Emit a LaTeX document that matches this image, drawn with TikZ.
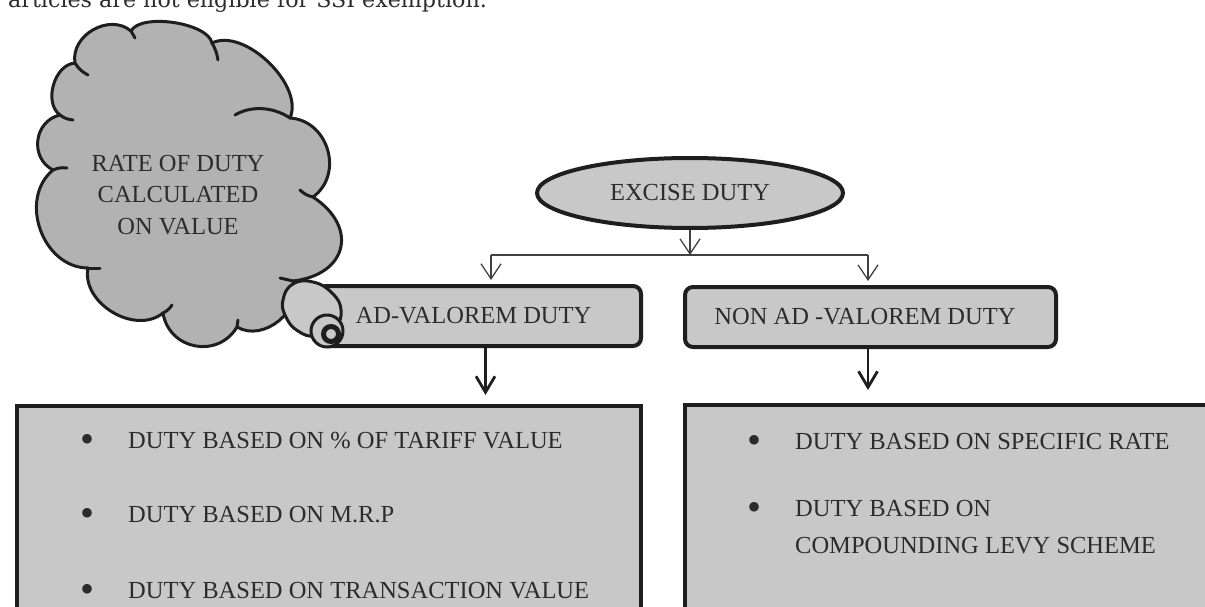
\documentclass[tikz,border=0pt]{standalone}
\usepackage{fontspec}
\setmainfont{Liberation Serif}
\newfontfamily\topfont{DejaVu Serif}
\usetikzlibrary{arrows.meta,shapes.geometric,calc}
\definecolor{cloudgray}{HTML}{B2B2B2}
\definecolor{boxgray}{HTML}{C8C8C8}
\definecolor{ink}{HTML}{1E1E1E}
\definecolor{txt}{HTML}{2C2C2C}
\begin{document}
\begin{tikzpicture}[x=1pt,y=-1pt,
  font=\fontsize{24.5}{31.5}\selectfont,
  every node/.append style={text=txt},
  headbox/.style={draw=ink, line width=4pt, fill=boxgray, rounded corners=8pt, inner sep=0pt},
  listbox/.style={draw=ink, line width=4pt, fill=boxgray, inner sep=0pt},
  cloudline/.style={draw=ink, line width=3pt, line cap=round, line join=round},
  thinline/.style={draw=ink!85, line width=1.3pt},
  thinarrow/.style={thinline, -{Straight Barb[length=15pt,width=20pt,line width=1.3pt]}},
  thickarrow/.style={draw=ink, line width=2.8pt, -{Straight Barb[length=16pt,width=19pt,line width=2.8pt]}},
  itemtext/.style={anchor=base west, inner sep=0pt},
  bul/.style={anchor=base, inner sep=0pt, font=\fontsize{40}{40}\selectfont},
]
\useasboundingbox (0,0) rectangle (1205,607);
\clip (0,0) rectangle (1205,607);

% top text line (cut off)
\node[anchor=base west, inner sep=0pt, font=\topfont\fontsize{22.2}{26}\selectfont] (toptext) at (8,7.5) {articles are not eligible for SSI exemption.};

% cloud
\coordinate (A) at (131,31);
\coordinate (B) at (75,63);
\coordinate (C) at (60,115);
\coordinate (D) at (53,170);
\coordinate (E) at (88,268);
\coordinate (F) at (163,313);
\coordinate (G) at (237,327);
\coordinate (H) at (293,281);
\coordinate (I) at (313,197);
\coordinate (J) at (290,118);
\coordinate (K) at (212,43);
\draw[cloudline, fill=cloudgray]
  (A) to[bend right=70, looseness=1.12] (B)
      to[bend right=70, looseness=0.98] (C)
      to[bend right=70, looseness=1.23] (D)
      to[bend right=70, looseness=1.12] (E)
      to[bend right=70, looseness=1.05] (F)
      to[bend right=70, looseness=1.27] (G)
      to[bend right=70, looseness=1.09] (H)
      to[bend right=70, looseness=1.63] (I)
      to[bend right=70, looseness=1.2] (J)
      to[bend right=70, looseness=0.85] (K)
      to[bend right=70, looseness=0.65] (A) -- cycle;
% creases
\draw[cloudline] (A) -- (135,38);
\draw[cloudline] (B) to[bend right=15] (88,75);
\draw[cloudline] (C) to[bend right=15] (73,120);
\draw[cloudline] (D) to[bend left=15] (67,168);
\draw[cloudline] (E) -- (100,268);
\draw[cloudline] (F) to[bend right=15] (172,305);
\draw[cloudline] (G) -- (238,320);
\draw[cloudline] (H) -- (280,278);
\draw[cloudline] (I) to[bend left=15] (300,190);
\draw[cloudline] (J) .. controls (272,106) and (250,106) .. (235,115);
\draw[cloudline] (K) to[bend left=10] (218,60);

\node[align=center, inner sep=0pt] (cloudtext) at (178,195) {RATE OF DUTY\\CALCULATED\\ON VALUE};

% heading nodes
\node[ellipse, draw=ink, line width=4pt, fill=boxgray, minimum width=306pt, minimum height=70pt, inner sep=0pt] (excise) at (690,193) {EXCISE DUTY};
\node[headbox, minimum width=323pt, minimum height=60pt] (adv) at (479.5,316) {AD-VALOREM DUTY\hspace*{12pt}};
\node[headbox, minimum width=371pt, minimum height=60pt] (nonadv) at (870.5,317) {NON AD -VALOREM DUTY\hspace*{11pt}};

% scroll end of the cloud
\draw[cloudline, fill=boxgray] plot[smooth cycle, tension=0.8] coordinates {(283,300) (293,284) (313,282) (332,293) (341,310) (335,327) (316,336) (298,331) (286,317)};
\draw[cloudline, fill=boxgray] (327,331) circle[radius=16];
\draw[draw=ink, line width=5pt, fill=boxgray] (331,334) circle[radius=7.5];

% list boxes
\node[listbox, minimum width=624pt, minimum height=246pt, anchor=north west] (advlist) at (15,404) {};
\node[listbox, minimum width=567pt, minimum height=246pt, anchor=north west] (nonlist) at (683,403) {};

\node[bul] (b1) at (88,452) {\textbullet};
\node[itemtext] (t1) at (128,448) {DUTY BASED ON \% OF TARIFF VALUE};
\node[bul] (b2) at (88,526) {\textbullet};
\node[itemtext] (t2) at (128,522) {DUTY BASED ON M.R.P};
\node[bul] (b3) at (88,602) {\textbullet};
\node[itemtext] (t3) at (128,598) {DUTY BASED ON TRANSACTION VALUE};

\node[bul] (b4) at (754,453) {\textbullet};
\node[itemtext] (t4) at (795,449) {DUTY BASED ON SPECIFIC RATE};
\node[bul] (b5) at (754,520) {\textbullet};
\node[itemtext] (t5) at (795,516) {DUTY BASED ON};
\node[itemtext] (t6) at (795,553) {COMPOUNDING LEVY SCHEME};

% connectors
\coordinate (splitL) at (491,255);
\coordinate (splitR) at (868,255);
\draw[thinarrow] (excise.south) -- (excise.south |- splitL);
\draw[thinline] (splitL) -- (splitR);
\draw[thinarrow, shorten >=4pt] (splitL) -- (splitL |- adv.north);
\draw[thinarrow, shorten >=4pt] (splitR) -- (splitR |- nonadv.north);
\draw[thickarrow, shorten >=9pt] ([xshift=6pt]adv.south) -- ([xshift=6pt]adv.south |- advlist.north);
\draw[thickarrow, shorten >=13pt] ([xshift=-2.5pt]nonadv.south) -- ([xshift=-2.5pt]nonadv.south |- nonlist.north);
\end{tikzpicture}
\end{document}
